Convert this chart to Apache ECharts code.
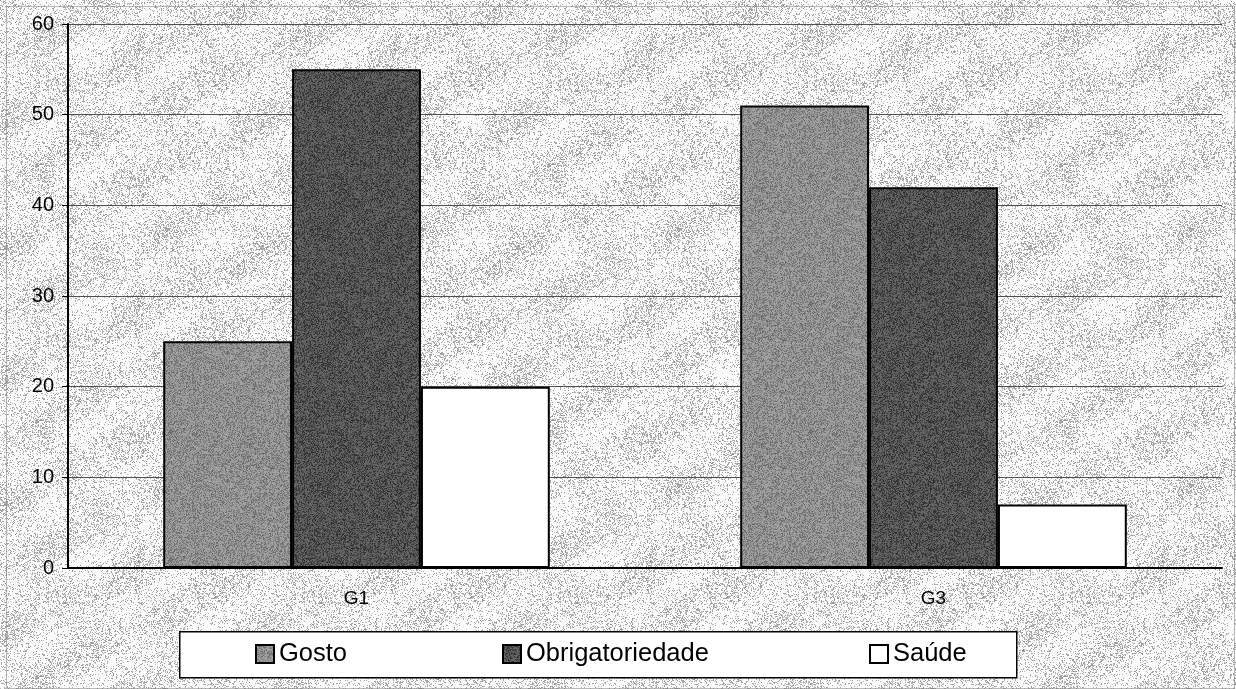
<!DOCTYPE html>
<html>
<head>
<meta charset="utf-8">
<script src="https://cdn.jsdelivr.net/npm/echarts@6/dist/echarts.min.js"></script>
<style>
html,body{margin:0;padding:0;background:#fff;}
#chart{width:1236px;height:689px;}
</style>
</head>
<body>
<div id="chart"></div>
<script>
// ---- data ----
const categories = ['G1', 'G3'];
const gosto = [25, 51];
const obrigatoriedade = [55, 42];
const saude = [20, 7];
const seriesNames = ['Gosto', 'Obrigatoriedade', 'Saúde'];
const yTicks = [0, 10, 20, 30, 40, 50, 60];

// ---- deterministic texture (style only) ----
function makeTexture(size, light, dark, baseDensity, blobAmp, seed) {
  const c = document.createElement('canvas');
  c.width = size; c.height = size;
  const ctx = c.getContext('2d');
  const img = ctx.createImageData(size, size);
  let s = seed >>> 0;
  function rnd() { s = (s * 1664525 + 1013904223) >>> 0; return s / 4294967296; }
  const k = 2 * Math.PI / size;
  for (let y = 0; y < size; y++) {
    for (let x = 0; x < size; x++) {
      const i = y * size + x;
      const blob = 0.5 + 0.25 * Math.sin(k * 3 * x + 1.3) * Math.cos(k * 2 * y + 0.4)
                 + 0.25 * Math.sin(k * (x + 2 * y) * 2 + 2.1);
      const d = baseDensity + blobAmp * blob;
      const r = rnd();
      const v = r < d ? dark + Math.floor(rnd() * 50) : light - Math.floor(rnd() * 10);
      img.data[i * 4] = v; img.data[i * 4 + 1] = v; img.data[i * 4 + 2] = v; img.data[i * 4 + 3] = 255;
    }
  }
  ctx.putImageData(img, 0, 0);
  return c;
}
const bgTex = makeTexture(256, 255, 145, 0.1, 0.3, 12345);
const gostoTex = makeTexture(128, 165, 100, 0.5, 0.1, 777);
const obrigTex = makeTexture(128, 105, 40, 0.5, 0.15, 4242);

const chart = echarts.init(document.getElementById('chart'), null, {renderer: 'canvas'});
const fontFamily = 'Liberation Sans, Arial, sans-serif';

const legendCommon = {
  orient: 'horizontal',
  top: 640,
  itemWidth: 18,
  itemHeight: 18,
  itemGap: 0,
  padding: 0,
  icon: 'rect',
  textStyle: {color: '#000', fontSize: 25.5, lineHeight: 28, fontFamily: fontFamily},
  selectedMode: false
};

const option = {
  backgroundColor: {image: bgTex, repeat: 'repeat'},
  animation: false,
  grid: {left: 68, right: 14, top: 24, bottom: 121, containLabel: false},
  xAxis: {
    type: 'category',
    data: categories,
    axisLine: {show: true, lineStyle: {color: '#000', width: 2}},
    axisTick: {show: false},
    axisLabel: {color: '#000', fontSize: 19, fontFamily: fontFamily, margin: 21}
  },
  yAxis: {
    type: 'value',
    min: yTicks[0],
    max: yTicks[yTicks.length - 1],
    interval: 10,
    axisLine: {show: true, lineStyle: {color: '#000', width: 2}},
    axisTick: {show: true, length: 6, lineStyle: {color: '#000', width: 1}},
    axisLabel: {color: '#000', fontSize: 20, fontFamily: fontFamily, margin: 14},
    splitLine: {show: true, lineStyle: {color: '#505050', width: 1}}
  },
  legend: [
    Object.assign({}, legendCommon, {left: 255, data: [seriesNames[0]]}),
    Object.assign({}, legendCommon, {left: 502, data: [seriesNames[1]]}),
    Object.assign({}, legendCommon, {left: 869, data: [seriesNames[2]]})
  ],
  graphic: [
    {type: 'rect', left: 179, top: 631, shape: {width: 837, height: 46},
     style: {fill: '#fff', stroke: '#000', lineWidth: 1.5}, z: -1},
    {type: 'rect', left: 4, top: 4, shape: {width: 1228, height: 682},
     style: {fill: null, stroke: '#777', lineWidth: 1, lineDash: [1, 1]}, z: -1}
  ],
  series: [
    {name: seriesNames[0], type: 'bar', data: gosto, barGap: '0%', barCategoryGap: '33%',
     itemStyle: {color: {image: gostoTex, repeat: 'repeat'}, borderColor: '#000', borderWidth: 2}},
    {name: seriesNames[1], type: 'bar', data: obrigatoriedade,
     itemStyle: {color: {image: obrigTex, repeat: 'repeat'}, borderColor: '#000', borderWidth: 2}},
    {name: seriesNames[2], type: 'bar', data: saude,
     itemStyle: {color: '#ffffff', borderColor: '#000', borderWidth: 2}}
  ]
};
chart.setOption(option);
</script>
</body>
</html>
